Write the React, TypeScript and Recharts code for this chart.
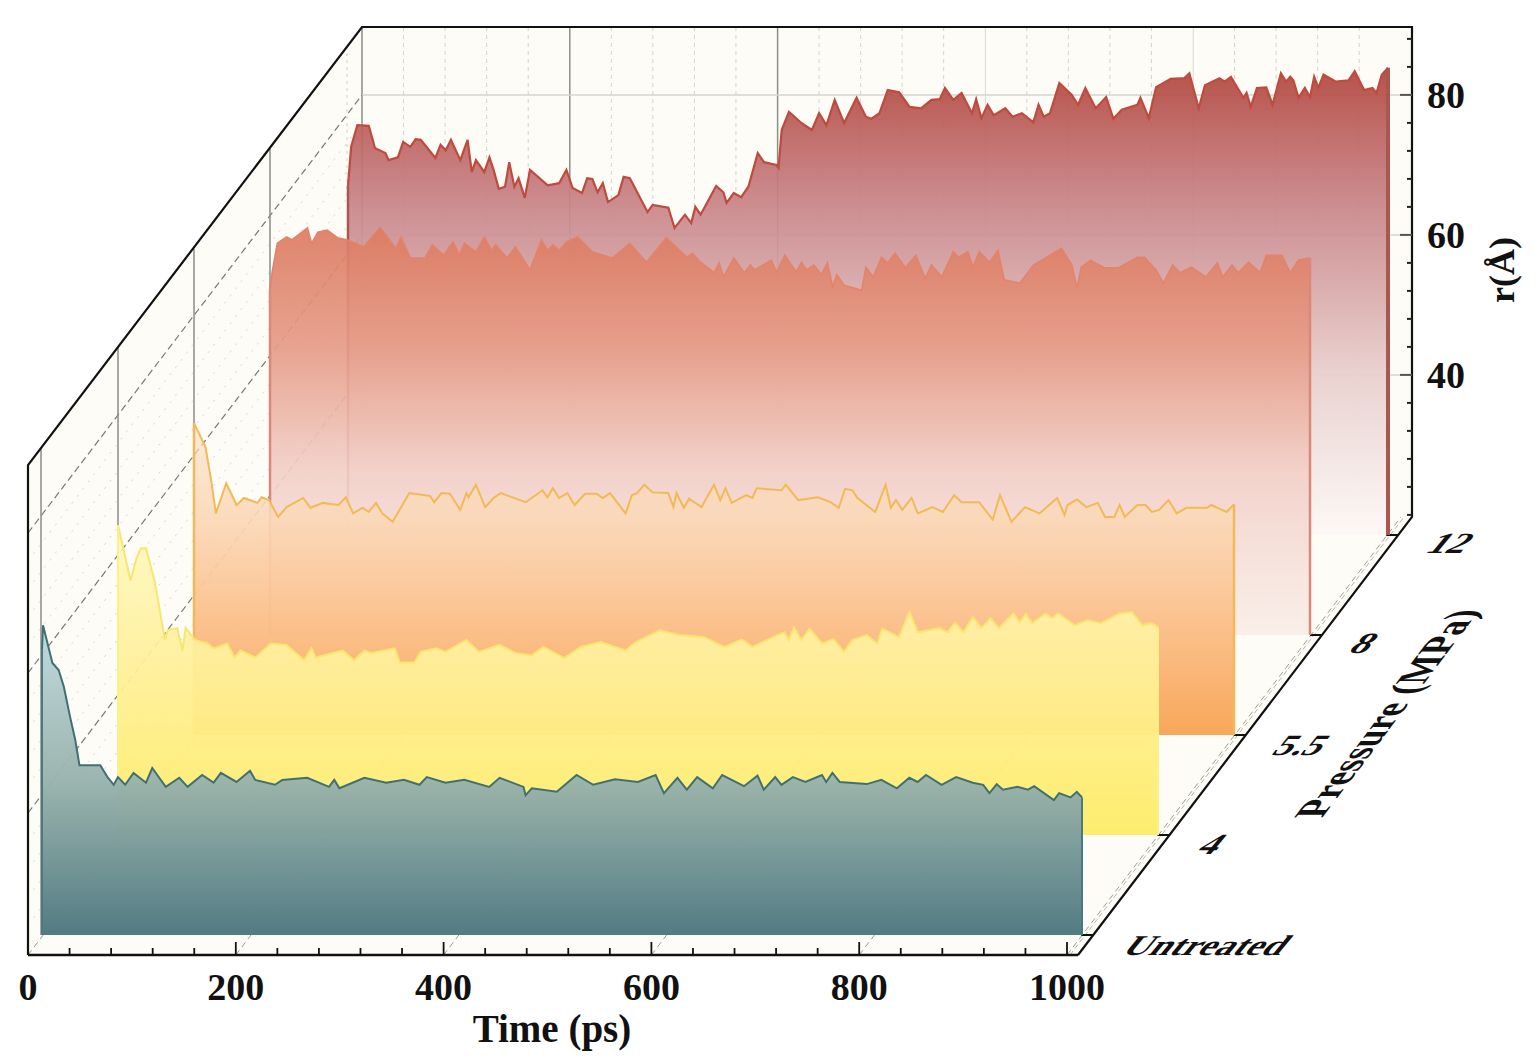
import React from "react";
import { AreaChart, Area, LineChart, Line, XAxis, YAxis, ReferenceLine } from "recharts";

// ---- data: time in ps, r in angstrom ----
const timeUntreated = [0,1,10,16,21,27,32,36,56,63,69,73,80,88,100,106,119,132,140,154,165,172,187,200,205,224,231,255,276,281,286,310,331,348,363,370,388,406,430,440,463,465,471,495,514,530,551,573,590,598,611,620,630,645,654,675,688,694,705,711,722,734,750,754,760,767,793,807,822,834,842,850,865,879,895,905,911,918,924,938,948,954,973,978,989,995,1000];
const rUntreated = [58,61.4,56,55,52.6,48.3,45,41.4,41.4,39.7,38.6,39.7,38.6,40.3,38.9,41,38.3,39.6,38.3,40,38.9,40.3,39,40.6,39.3,38.6,39.3,39.6,38.3,39.3,38.1,39.6,38.9,39.3,38.6,39.7,38.9,39.3,38.3,39.6,38.3,37.1,38.1,37.6,40,38.6,39.4,39,40,37.4,39.6,37.9,39.7,38.1,40,38.4,39.9,37.9,39.7,38.6,39.7,39,40,39,40.3,39,38.7,39.3,38.1,39.6,39,40,38.6,39.7,38.9,38.6,37.4,38.7,37.9,38.3,37.9,38.4,36.4,37.4,36.8,37.6,36.8];

const time4 = [0,12,18,22,27,35,39,45,48,57,62,65,74,86,92,105,112,118,132,147,162,179,186,190,216,227,237,243,266,271,285,291,306,315,335,347,367,383,398,409,429,445,464,488,498,521,539,564,583,600,610,634,641,645,650,657,665,677,688,698,706,720,730,735,751,761,769,790,798,805,813,822,830,839,847,861,867,873,879,892,898,904,920,932,945,963,975,985,994,1000];
const r4 = [61.4,53.5,56.8,58.1,58.1,53.5,50.3,45,46.4,46.7,43.5,46.7,45,44.5,43.8,44.5,42.5,43.5,42.5,44.5,44.3,42.1,43.8,42.5,43.5,42.1,43.5,43.1,43.8,41.8,41.8,43.3,43.8,43.3,45,43.3,44.3,43.1,42.8,44,42.4,44,44.7,43.5,44.7,46.4,45.7,45.4,44,45.1,44,45.7,46.1,45,46.8,45,46.6,44.5,45.1,43.3,45,45.7,44.5,46.6,45.4,49,46.1,46.7,46.1,47.5,46.1,48.3,46.7,48.1,46.7,48.8,47.5,48.7,47.4,48.8,48.1,48.8,47.1,47.8,47.4,48.8,49,47.1,47.4,46.8];

const time55 = [0,11,17,21,31,41,48,61,65,72,81,89,105,112,124,139,146,153,162,168,175,181,191,207,227,231,238,246,256,262,264,271,280,288,295,319,335,340,345,351,359,366,376,387,393,400,415,421,426,433,441,456,461,464,471,476,488,500,506,511,517,531,537,541,565,569,581,600,612,620,626,633,638,655,665,670,675,681,690,696,710,720,731,738,755,768,775,786,799,813,830,837,840,849,858,869,876,885,890,895,907,915,921,928,937,945,954,974,978,993,1000];
const r55 = [61.7,58.3,53.1,48.8,53.1,50,51,50.3,51.1,50.7,48.3,49.7,51,49.6,50.3,50,51.1,48.8,49.6,49,50.3,48.8,47.6,51.7,51.3,50.4,51.7,51.6,49.3,51.7,51.1,52.9,49.7,51,51.7,50.4,52.1,51.1,52.4,51,51.7,50,51.6,51.6,51,51.7,48.8,51.4,51.7,52.9,51.8,51.7,49.7,51.7,49.6,50.9,49.7,52.9,50.7,52.4,50.3,51.4,51,52.4,52.1,52.9,50.7,51.1,50.4,49.6,52.3,52.1,51,49,52.9,49.6,50.7,49.3,51,48.8,49.7,49,51.4,50.4,50.4,47.9,51.4,47.6,49.7,48.8,51,48.6,50,50.8,49.7,50.3,48.3,48.3,50,48.3,50,50,49,49.3,50.7,48.8,49.6,49.6,50,49,50.1];

const time8 = [0,2,7,16,21,36,40,46,55,65,74,82,90,106,121,126,135,149,156,167,176,182,187,198,206,213,217,228,236,250,261,267,272,278,285,296,310,329,346,362,381,401,406,414,427,432,436,446,456,462,466,482,487,495,506,511,516,523,530,536,541,545,552,569,573,580,588,594,601,611,621,630,636,646,657,662,671,676,682,692,700,706,721,734,750,761,771,776,780,789,802,816,834,841,852,859,868,875,886,900,911,916,925,931,941,952,958,973,981,989,1000];
const r8 = [66.4,68.9,73.1,74,73.6,75.3,73.1,74.7,75,73.9,73.6,73.1,72.6,75.4,72.4,74,71,71,72.9,71.4,73.3,71.4,73.1,71.9,74,72.1,72.9,71,72.6,69.3,73.6,72.1,72.9,72.1,73.3,74,71.9,71,73.1,70.4,73.9,71.1,71.7,70.4,68.9,70.3,68.3,71,68.9,70,69.3,70.7,69,71.4,69,70.4,69.3,70,68.6,70.3,66.9,68.6,67.1,66.4,69.7,68.3,71.1,70.3,71.7,69.6,71.4,68.1,70,68.3,71.9,71.1,71.9,69.7,71.9,70.4,72.1,67.9,67.4,70,71.4,72.4,70,66.7,69.7,70.7,69.6,69.6,71.1,71.1,69.3,67.4,70,68.9,69.7,68.3,70.3,68.3,70,68.9,70.4,68.9,71.4,71.4,68.9,70.7,71];

const time12 = [0,3,9,20,26,36,39,48,53,60,65,70,84,89,94,99,108,115,119,123,131,136,140,145,151,155,160,164,170,175,192,203,210,216,225,230,235,240,245,250,260,265,271,288,293,308,314,324,330,334,339,354,361,364,371,378,385,394,400,412,414,417,424,436,446,453,460,468,477,489,498,503,511,519,530,540,551,561,569,574,582,590,600,604,609,615,621,632,639,648,659,664,669,675,684,696,702,709,719,729,736,744,759,762,770,777,791,804,809,818,824,838,843,849,861,864,868,874,883,889,897,902,906,909,914,920,925,929,933,938,950,962,968,977,985,989,994,1000];
const r12 = [67.1,72.6,75.7,75.6,72.4,71.7,70.7,71.1,73.3,72.6,73.7,73.6,71,72.9,72.1,73.6,70.7,73.6,69,70.7,69,71.1,69.3,66.6,66.9,70.4,66.9,68.1,65.3,69.3,67.1,67.4,69.3,66.7,66,68.1,68,66.1,67.4,64.7,65.7,68.3,68.1,63.3,64.3,63.9,61,62.9,61.7,64,62.9,67,66.1,64.6,66,65.4,66.9,71.7,70.4,70,69.6,75,77.6,76,75,77.4,75.7,79.3,76,79.6,76.9,76.6,77.4,80.7,80.4,78.3,78.1,79.3,79.4,81,79.3,80.3,77.4,79.4,76.7,78.6,77.1,78.1,76.9,77.4,76.1,78.6,76.9,77.4,81.7,80,78.6,81,78.1,79.7,76.6,77.9,78.6,79.6,76.7,81.1,82.3,82.4,83.1,78.1,81.4,82.4,81.9,82.6,79.6,80.3,78.3,81,81.1,78.6,83.1,81.9,82.6,82.1,79.6,81,79.7,82.6,81,82.9,81.9,82.1,83.4,80.7,81,80.3,82.9,83.9];

const timeTicks = [0,40,80,120,160,200,240,280,320,360,400,440,480,520,560,600,640,680,720,760,800,840,880,920,960,1000];
const timeLabels = [0,200,400,600,800,1000];
const rTicks = [20,24,28,32,36,40,44,48,52,56,60,64,68,72,76,80,84,88];
const rLabels = [40,60,80];
const pressureLabels = ["Untreated","4","5.5","8","12"];

const zip = (t: number[], r: number[]) => t.map((time, i) => ({ time, r: r[i] }));

// ---- layout ----
const W = 1538, H = 1062;
const FONT = '"Liberation Serif", serif';
const PLANE_W = 1040, PLANE_H = 510, PAD = 5;
const R_MIN = 17.14, R_MAX = 90;

const CREAM = "#fefcf6";
const planes = [
  { id: "p12", data: zip(time12, r12), x0: 348, base: 535, stroke: "#bf4a3e", sw: 2.2, edge: "#a9574f", edgeW: 4,
    stops: [["0%", "#b2453d", 0.93], ["30%", "#c9868a", 0.93], ["65%", "#e8cfcd", 0.95], ["100%", "#fdf8f6", 0.95]] },
  { id: "p8", data: zip(time8, r8), x0: 270, base: 635, stroke: "#e3836b", sw: 1.6, edge: "#db8878", edgeW: 2.5,
    stops: [["0%", "#dc7a60", 0.92], ["30%", "#e69c88", 0.92], ["60%", "#f2d0c8", 0.92], ["100%", "#f9ede8", 0.9]] },
  { id: "p55", data: zip(time55, r55), x0: 194, base: 735, stroke: "#f2ba55", sw: 2, edge: "#f2b85a", edgeW: 2.5,
    stops: [["0%", "#f8dcc4", 0.55], ["30%", "#fbd8b8", 0.92], ["65%", "#fbbf89", 0.97], ["100%", "#f8a75a", 1]] },
  { id: "p4", data: zip(time4, r4), x0: 118, base: 835, stroke: "#f8e66f", sw: 2, edge: "#fdf08a", edgeW: 2,
    stops: [["0%", "#fff7bb", 0.85], ["45%", "#fff09a", 0.94], ["100%", "#fdec68", 0.96]] },
  { id: "pU", data: zip(timeUntreated, rUntreated), x0: 42, base: 935, stroke: "#3f7072", sw: 2, edge: "#4a7a80", edgeW: 2,
    stops: [["0%", "#bed8dc", 0.95], ["50%", "#98b2ac", 0.96], ["100%", "#527b82", 1]] },
];

const Plane = ({ p }: { p: (typeof planes)[number] }) => {
  const first = p.data[0];
  const last = p.data[p.data.length - 1];
  return (
    <AreaChart
      width={PLANE_W + 2 * PAD}
      height={PLANE_H + PAD}
      data={p.data}
      margin={{ left: PAD, right: PAD, top: PAD, bottom: 0 }}
      style={{ position: "absolute", left: p.x0 - PAD, top: p.base - PLANE_H - PAD }}
    >
      <defs>
        <linearGradient id={p.id} x1="0" y1="0" x2="0" y2="1">
          {p.stops.map((s) => (
            <stop key={s[0] as string} offset={s[0] as string} stopColor={s[1] as string} stopOpacity={s[2] as number} />
          ))}
        </linearGradient>
      </defs>
      <XAxis hide type="number" dataKey="time" domain={[0, 1000]} />
      <YAxis hide type="number" domain={[R_MIN, R_MAX]} />
      <Area type="linear" dataKey="r" stroke={p.stroke} strokeWidth={p.sw} fill={`url(#${p.id})`} fillOpacity={1} isAnimationActive={false} dot={false} activeDot={false} />
      <ReferenceLine segment={[{ x: 0, y: R_MIN }, { x: 0, y: first.r }]} stroke={p.edge} strokeWidth={p.id === "p12" ? 2.5 : p.edgeW} ifOverflow="visible" />
      <ReferenceLine segment={[{ x: 1000, y: R_MIN }, { x: 1000, y: last.r }]} stroke={p.edge} strokeWidth={p.edgeW} ifOverflow="visible" />
    </AreaChart>
  );
};

const TimeTick = (props: any) => {
  const { x, y, payload } = props;
  const major = timeLabels.includes(payload.value);
  return (
    <g>
      <line x1={x} x2={x} y1={y} y2={y - (major ? 13 : 7)} stroke="#111" strokeWidth={1.8} />
      {major && (
        <text x={x} y={y + 45} textAnchor="middle" fontFamily={FONT} fontWeight="bold" fontSize={38} fill="#111">
          {payload.value}
        </text>
      )}
    </g>
  );
};

const RTick = (props: any) => {
  const { x, y, payload } = props;
  const major = rLabels.includes(payload.value);
  return (
    <g>
      <line x1={x} x2={x - (major ? 12 : 5)} y1={y} y2={y} stroke={major ? "#555" : "#222"} strokeWidth={2} />
      {major && (
        <text x={x + 15} y={y + 13} textAnchor="start" fontFamily={FONT} fontWeight="bold" fontSize={38} fill="#111">
          {payload.value}
        </text>
      )}
    </g>
  );
};

const range = (a: number, n: number, step: number) => Array.from({ length: n }, (_, i) => a + i * step);

const Frame = () => {
  const FX = 334, FY = 438; // depth vector of the box
  const left = 28, bottom = 955, backL = 362, backB = 517, top = 27, right = 1412;
  const pxPer40 = 41.55;
  const rY = [95, 235, 375];
  const rYMinor = [123, 151, 179, 207, 263, 291, 319, 347, 403, 431, 459, 487];
  return (
    <svg width={W} height={H} style={{ position: "absolute", left: 0, top: 0 }}>
      <polygon points={`${left},${bottom - 490} ${backL},${top} ${backL},${backB} ${left},${bottom}`} fill={CREAM} />
      <polygon points={`${backL},${top} ${right},${top} ${right},${backB} ${backL},${backB}`} fill={CREAM} />
      <polygon points={`${left},${bottom} ${left + 1050},${bottom} ${right},${backB} ${backL},${backB}`} fill={CREAM} />
      {/* back wall grid */}
      {range(backL, 26, pxPer40).map((x, i) =>
        i % 5 === 0 ? null : <line key={x} x1={x} x2={x} y1={top} y2={backB} stroke="#d4d2cb" strokeWidth={1} strokeDasharray="4 4" />
      )}
      {[0, 1, 2].map((k) => (
        <line key={k} x1={backL + k * 207.8} x2={backL + k * 207.8} y1={top} y2={backB} stroke="#8d8d8a" strokeWidth={1.5} />
      ))}
      {[3, 4].map((k) => (
        <line key={k} x1={backL + k * 207.8} x2={backL + k * 207.8} y1={top} y2={backB} stroke="#dcdad3" strokeWidth={1} />
      ))}
      {rY.map((y) => (
        <line key={y} x1={backL} x2={right} y1={y} y2={y} stroke="#d6d5d0" strokeWidth={1.5} />
      ))}
      {/* left wall grid */}
      {rYMinor.map((y) => (
        <line key={y} x1={left} x2={backL} y1={y + FY} y2={y} stroke="#d8d6ce" strokeWidth={1} strokeDasharray="2 7" />
      ))}
      {rY.map((y) => (
        <line key={y} x1={left} x2={backL} y1={y + FY} y2={y} stroke="#77777a" strokeWidth={1.2} strokeDasharray="7 4" />
      ))}
      {[[41, 448], [118, 348], [194, 249], [270, 149]].map(([x, y]) => (
        <line key={x} x1={x} x2={x} y1={y} y2={935 - ((x - 41) / 76) * 100} stroke="#8d8d8a" strokeWidth={1.5} />
      ))}
      <line x1={347} x2={347} y1={46} y2={200} stroke="#cfcfca" strokeWidth={1} strokeDasharray="3 4" />
      {/* floor grid */}
      {range(left, 6, 207.8).map((x) => (
        <line key={x} x1={x} y1={bottom} x2={x + FX} y2={backB} stroke="#9c9c98" strokeWidth={1} strokeDasharray="6 4" />
      ))}
      <line x1={1070} y1={bottom} x2={1404} y2={backB} stroke="#b5b5b0" strokeWidth={1} strokeDasharray="5 3" />
      {/* outline */}
      <polyline
        points={`${left},${bottom} ${left},${bottom - 490} ${backL},${top} ${right},${top} ${right},${backB} ${left + 1050},${bottom}`}
        fill="none"
        stroke="#111"
        strokeWidth={2.2}
      />
      {/* pressure ticks */}
      {[935, 835, 735, 635, 535].map((y) => {
        const x = left + 1050 + ((bottom - y) / FY) * FX;
        return <line key={y} x1={x} x2={x - 12} y1={y} y2={y} stroke="#111" strokeWidth={2} />;
      })}
    </svg>
  );
};

const floorLabels = [
  { text: pressureLabels[0], x: 1120, y: 955, size: 37 },
  { text: pressureLabels[1], x: 1195, y: 854, size: 38 },
  { text: pressureLabels[2], x: 1270, y: 755, size: 38 },
  { text: pressureLabels[3], x: 1347, y: 653, size: 38 },
  { text: pressureLabels[4], x: 1424, y: 553, size: 38 },
];

const Labels = () => (
  <svg width={W} height={H} style={{ position: "absolute", left: 0, top: 0, pointerEvents: "none" }}>
    <g fontFamily={FONT} fontWeight="bold" fill="#111" fontSize={39}>
      <text x={552} y={1042} textAnchor="middle">Time (ps)</text>
      <text transform="translate(1514 270) rotate(-90)" textAnchor="middle" fontSize={36}>r(Å)</text>
      {floorLabels.map((l) => (
        <text key={l.text} transform={`matrix(1 0 -0.64 0.77 ${l.x} ${l.y})`} fontSize={l.size}>{l.text}</text>
      ))}
      <text transform="matrix(0.66 -0.87 1.2 0 1322 818)" fontSize={36}>Pressure (MPa)</text>
    </g>
  </svg>
);

const axisRows = [{ time: 0, r: 40 }, { time: 1000, r: 60 }];

export default function App() {
  return (
    <div style={{ position: "absolute", left: 0, top: 0, width: W, height: H, overflow: "hidden", background: "#fff" }}>
      <Frame />
      <LineChart
        width={W}
        height={H}
        data={axisRows}
        margin={{ left: 362, right: W - 1412 - 70, top: 27, bottom: H - 517 }}
        style={{ position: "absolute", left: 0, top: 0 }}
      >
        <XAxis hide type="number" dataKey="time" domain={[0, 1000]} />
        <YAxis
          orientation="right"
          type="number"
          width={70}
          domain={[19.7, 89.7]}
          ticks={rTicks}
          interval={0}
          axisLine={false}
          tickLine={false}
          tickSize={0}
          tickMargin={0}
          tick={<RTick />}
        />
        <Line dataKey="r" stroke="none" dot={false} activeDot={false} isAnimationActive={false} />
      </LineChart>
      {planes.map((p) => (
        <Plane key={p.id} p={p} />
      ))}
      <LineChart
        width={W}
        height={H}
        data={axisRows}
        margin={{ left: 28, right: W - 28 - 1039, top: 900, bottom: 7 }}
        style={{ position: "absolute", left: 0, top: 0 }}
      >
        <XAxis
          type="number"
          dataKey="time"
          domain={[0, 1000]}
          ticks={timeTicks}
          interval={0}
          height={100}
          axisLine={false}
          tickLine={false}
          tickSize={0}
          tickMargin={0}
          tick={<TimeTick />}
        />
        <YAxis hide type="number" domain={[0, 100]} />
        <Line dataKey="r" stroke="none" dot={false} activeDot={false} isAnimationActive={false} />
      </LineChart>
      <svg width={W} height={H} style={{ position: "absolute", left: 0, top: 0, pointerEvents: "none" }}>
        <line x1={28} x2={1078} y1={955} y2={955} stroke="#111" strokeWidth={2.4} />
      </svg>
      <Labels />
    </div>
  );
}
